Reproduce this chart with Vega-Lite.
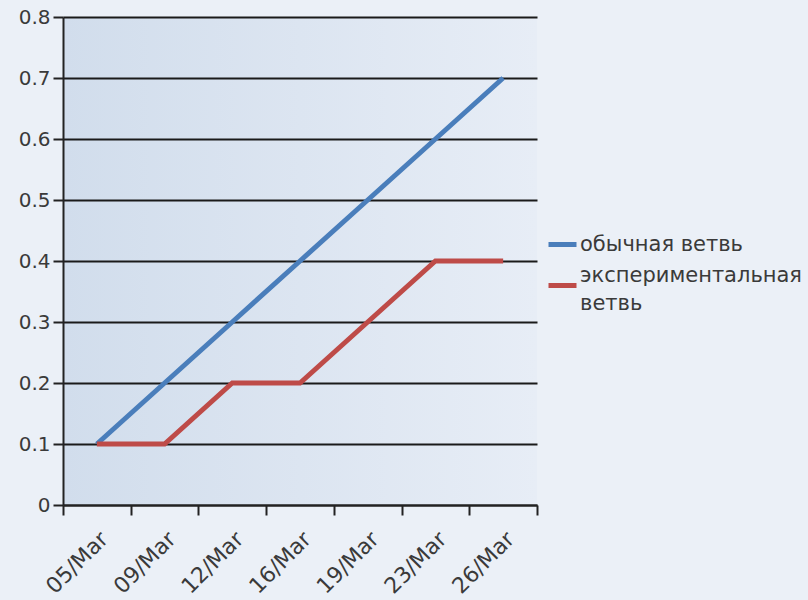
{
  "$schema": "https://vega.github.io/schema/vega-lite/v6.json",
  "width": 474,
  "height": 488,
  "autosize": {"type": "none"},
  "padding": {"left": 63, "top": 17, "right": 271, "bottom": 95},
  "background": "#ebf0f7",
  "data": {
    "values": [
      {"date": "05/Mar", "series": "обычная ветвь", "value": 0.1},
      {"date": "09/Mar", "series": "обычная ветвь", "value": 0.2},
      {"date": "12/Mar", "series": "обычная ветвь", "value": 0.3},
      {"date": "16/Mar", "series": "обычная ветвь", "value": 0.4},
      {"date": "19/Mar", "series": "обычная ветвь", "value": 0.5},
      {"date": "23/Mar", "series": "обычная ветвь", "value": 0.6},
      {"date": "26/Mar", "series": "обычная ветвь", "value": 0.7},
      {"date": "05/Mar", "series": "экспериментальная ветвь", "value": 0.1},
      {"date": "09/Mar", "series": "экспериментальная ветвь", "value": 0.1},
      {"date": "12/Mar", "series": "экспериментальная ветвь", "value": 0.2},
      {"date": "16/Mar", "series": "экспериментальная ветвь", "value": 0.2},
      {"date": "19/Mar", "series": "экспериментальная ветвь", "value": 0.3},
      {"date": "23/Mar", "series": "экспериментальная ветвь", "value": 0.4},
      {"date": "26/Mar", "series": "экспериментальная ветвь", "value": 0.4}
    ]
  },
  "mark": {"type": "line", "strokeWidth": 5, "strokeCap": "butt", "strokeJoin": "miter"},
  "encoding": {
    "x": {
      "field": "date",
      "type": "ordinal",
      "sort": null,
      "title": null,
      "scale": {"paddingInner": 0, "paddingOuter": 0},
      "axis": {
        "labelAngle": -45,
        "tickBand": "extent",
        "tickSize": 10,
        "tickWidth": 2,
        "tickColor": "#222",
        "domainColor": "#222",
        "domainWidth": 2,
        "grid": false,
        "labelFontSize": 22,
        "labelColor": "#3a3a3a",
        "labelPadding": 13
      }
    },
    "y": {
      "field": "value",
      "type": "quantitative",
      "title": null,
      "scale": {"domain": [0, 0.8], "nice": false},
      "axis": {
        "values": [0, 0.1, 0.2, 0.3, 0.4, 0.5, 0.6, 0.7, 0.8],
        "labelExpr": "datum.value == 0 ? '0' : format(datum.value, '.1f')",
        "tickSize": 10,
        "tickWidth": 2,
        "tickColor": "#222",
        "domainColor": "#222",
        "domainWidth": 2,
        "grid": true,
        "gridColor": "#1a1a1a",
        "gridWidth": 1.8,
        "gridOpacity": 1,
        "labelFontSize": 20,
        "labelColor": "#3a3a3a",
        "labelPadding": 3
      }
    },
    "color": {
      "field": "series",
      "type": "nominal",
      "sort": null,
      "title": null,
      "scale": {
        "domain": ["обычная ветвь", "экспериментальная ветвь"],
        "range": ["#4a7ebb", "#be4b48"]
      },
      "legend": {
        "orient": "none",
        "legendX": 483,
        "legendY": 211,
        "symbolType": "stroke",
        "symbolStrokeWidth": 5,
        "symbolSize": 784,
        "labelFontSize": 21,
        "labelColor": "#3a3a3a",
        "labelLimit": 300,
        "labelOffset": 1,
        "rowPadding": 9,
        "labelBaseline": {"expr": "datum.label == 'экспериментальная ветвь' ? 'bottom' : 'middle'"},
        "labelExpr": "datum.label == 'экспериментальная ветвь' ? ['экспериментальная', 'ветвь'] : datum.label"
      }
    }
  },
  "config": {
    "font": "DejaVu Sans",
    "style": {"guide-label": {"lineHeight": 28}},
    "view": {
      "stroke": null,
      "fill": {
        "gradient": "linear",
        "x1": 0, "y1": 0, "x2": 1, "y2": 0,
        "stops": [
          {"offset": 0, "color": "#d1ddec"},
          {"offset": 1, "color": "#e7edf6"}
        ]
      }
    }
  }
}
